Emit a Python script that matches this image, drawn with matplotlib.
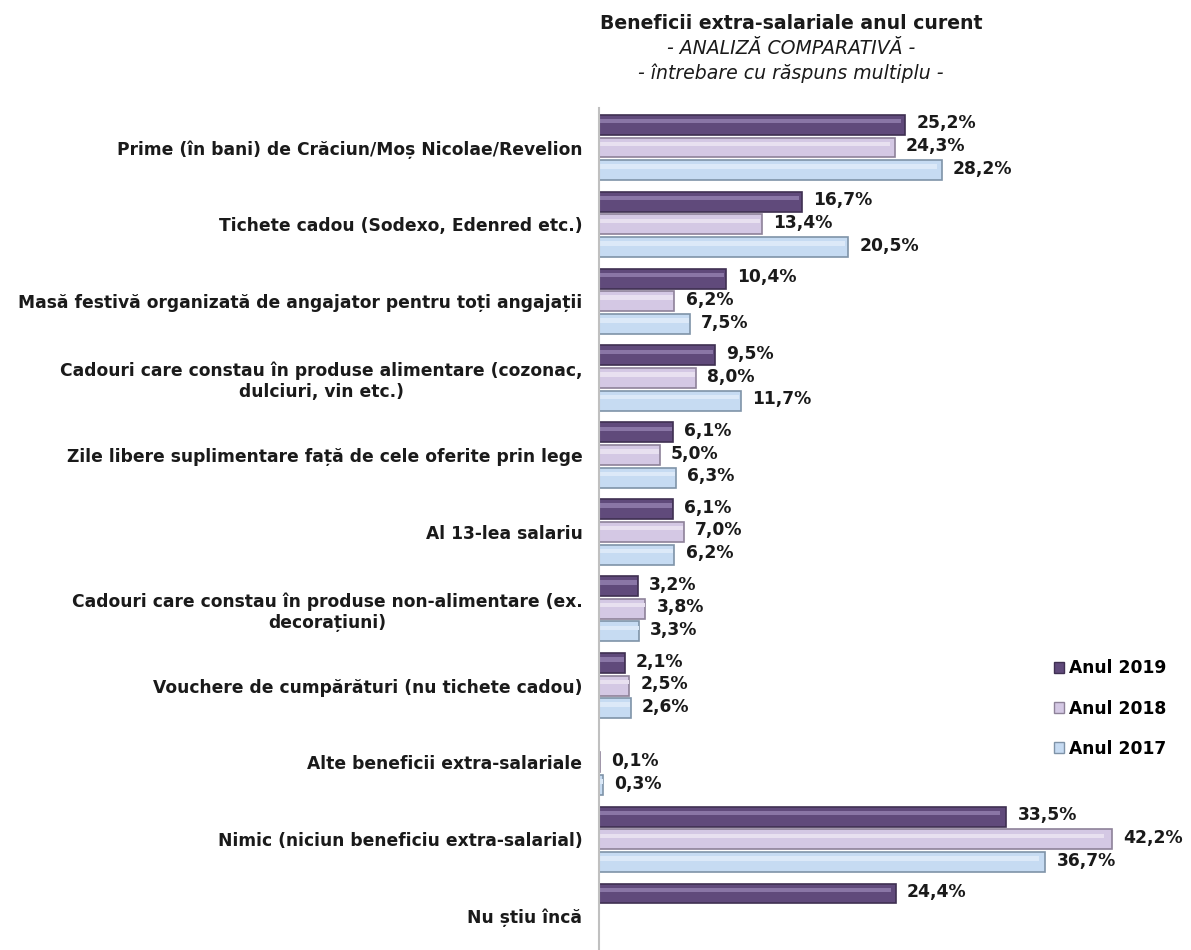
import numpy as np
import matplotlib.pyplot as plt
from matplotlib.patches import Patch

plt.rcParams['font.family'] = ['DejaVu Sans']

categorii = [
    "Prime (în bani) de Crăciun/Moș Nicolae/Revelion",
    "Tichete cadou (Sodexo, Edenred etc.)",
    "Masă festivă organizată de angajator pentru toți angajații",
    "Cadouri care constau în produse alimentare (cozonac,\ndulciuri, vin etc.)",
    "Zile libere suplimentare față de cele oferite prin lege",
    "Al 13-lea salariu",
    "Cadouri care constau în produse non-alimentare (ex.\ndecorațiuni)",
    "Vouchere de cumpărături (nu tichete cadou)",
    "Alte beneficii extra-salariale",
    "Nimic (niciun beneficiu extra-salarial)",
    "Nu știu încă",
]
anul2019 = [25.2, 16.7, 10.4, 9.5, 6.1, 6.1, 3.2, 2.1, np.nan, 33.5, 24.4]
anul2018 = [24.3, 13.4, 6.2, 8.0, 5.0, 7.0, 3.8, 2.5, 0.1, 42.2, np.nan]
anul2017 = [28.2, 20.5, 7.5, 11.7, 6.3, 6.2, 3.3, 2.6, 0.3, 36.7, np.nan]
serii = ["Anul 2019", "Anul 2018", "Anul 2017"]

culori = ["#604a7b", "#d4c8e4", "#c6dbf2"]
margini = ["#3f3052", "#8e8299", "#7f93a8"]
lumini = ["#8a76a6", "#e8e0f0", "#dce9f8"]

fs = 12.3

fig = plt.figure(figsize=(11.91, 9.5), dpi=100)
ax = fig.add_axes([0.503, 0.0, 0.49, 0.886])

y = np.arange(len(categorii))
h = 0.26
for k, vals in enumerate([anul2019, anul2018, anul2017]):
    pos = y + (k - 1) * 0.295
    v = np.array(vals)
    ax.barh(pos, v, height=h, color=culori[k], edgecolor=margini[k], linewidth=1.2)
    # efect de relief
    ax.barh(pos - h * 0.18, v * 0.985, height=h * 0.22, color=lumini[k], linewidth=0)
    for p, val in zip(pos, vals):
        if np.isnan(val):
            continue
        ax.annotate(f"{val:.1f}%".replace(".", ","), (val, p), xytext=(8, 1),
                    textcoords="offset points", va="center", ha="left",
                    fontsize=fs, fontweight="bold", color="#1a1a1a")

ax.set_yticks(y)
ax.set_yticklabels(categorii, fontsize=fs, fontweight="bold", color="#1a1a1a",
                   multialignment="center")
ax.tick_params(axis="y", length=0, pad=12)
ax.set_xticks([])
ax.set_xlim(0, 48)
ax.set_ylim(10.44, -0.51)
for s in ["top", "right", "bottom"]:
    ax.spines[s].set_visible(False)
ax.spines["left"].set_color("#c0c0c0")
ax.spines["left"].set_linewidth(1.5)

fig.text(0.664, 0.975, "Beneficii extra-salariale anul curent", ha="center", va="center",
         fontsize=13.6, fontweight="bold", color="#1a1a1a")
fig.text(0.664, 0.949, "- ANALIZĂ COMPARATIVĂ -", ha="center", va="center",
         fontsize=13.6, style="italic", color="#1a1a1a")
fig.text(0.664, 0.923, "- întrebare cu răspuns multiplu -", ha="center", va="center",
         fontsize=13.6, style="italic", color="#1a1a1a")

handles = [Patch(facecolor=culori[k], edgecolor=margini[k]) for k in range(3)]
leg = ax.legend(handles, serii, loc="upper left", bbox_to_anchor=(0.879, 0.313),
                bbox_transform=fig.transFigure, frameon=False, fontsize=fs,
                handlelength=0.6, handleheight=0.6, handletextpad=0.3, labelspacing=1.3,
                borderaxespad=0)
for t in leg.get_texts():
    t.set_fontweight("bold")

fig.savefig("out.png", dpi=100)
